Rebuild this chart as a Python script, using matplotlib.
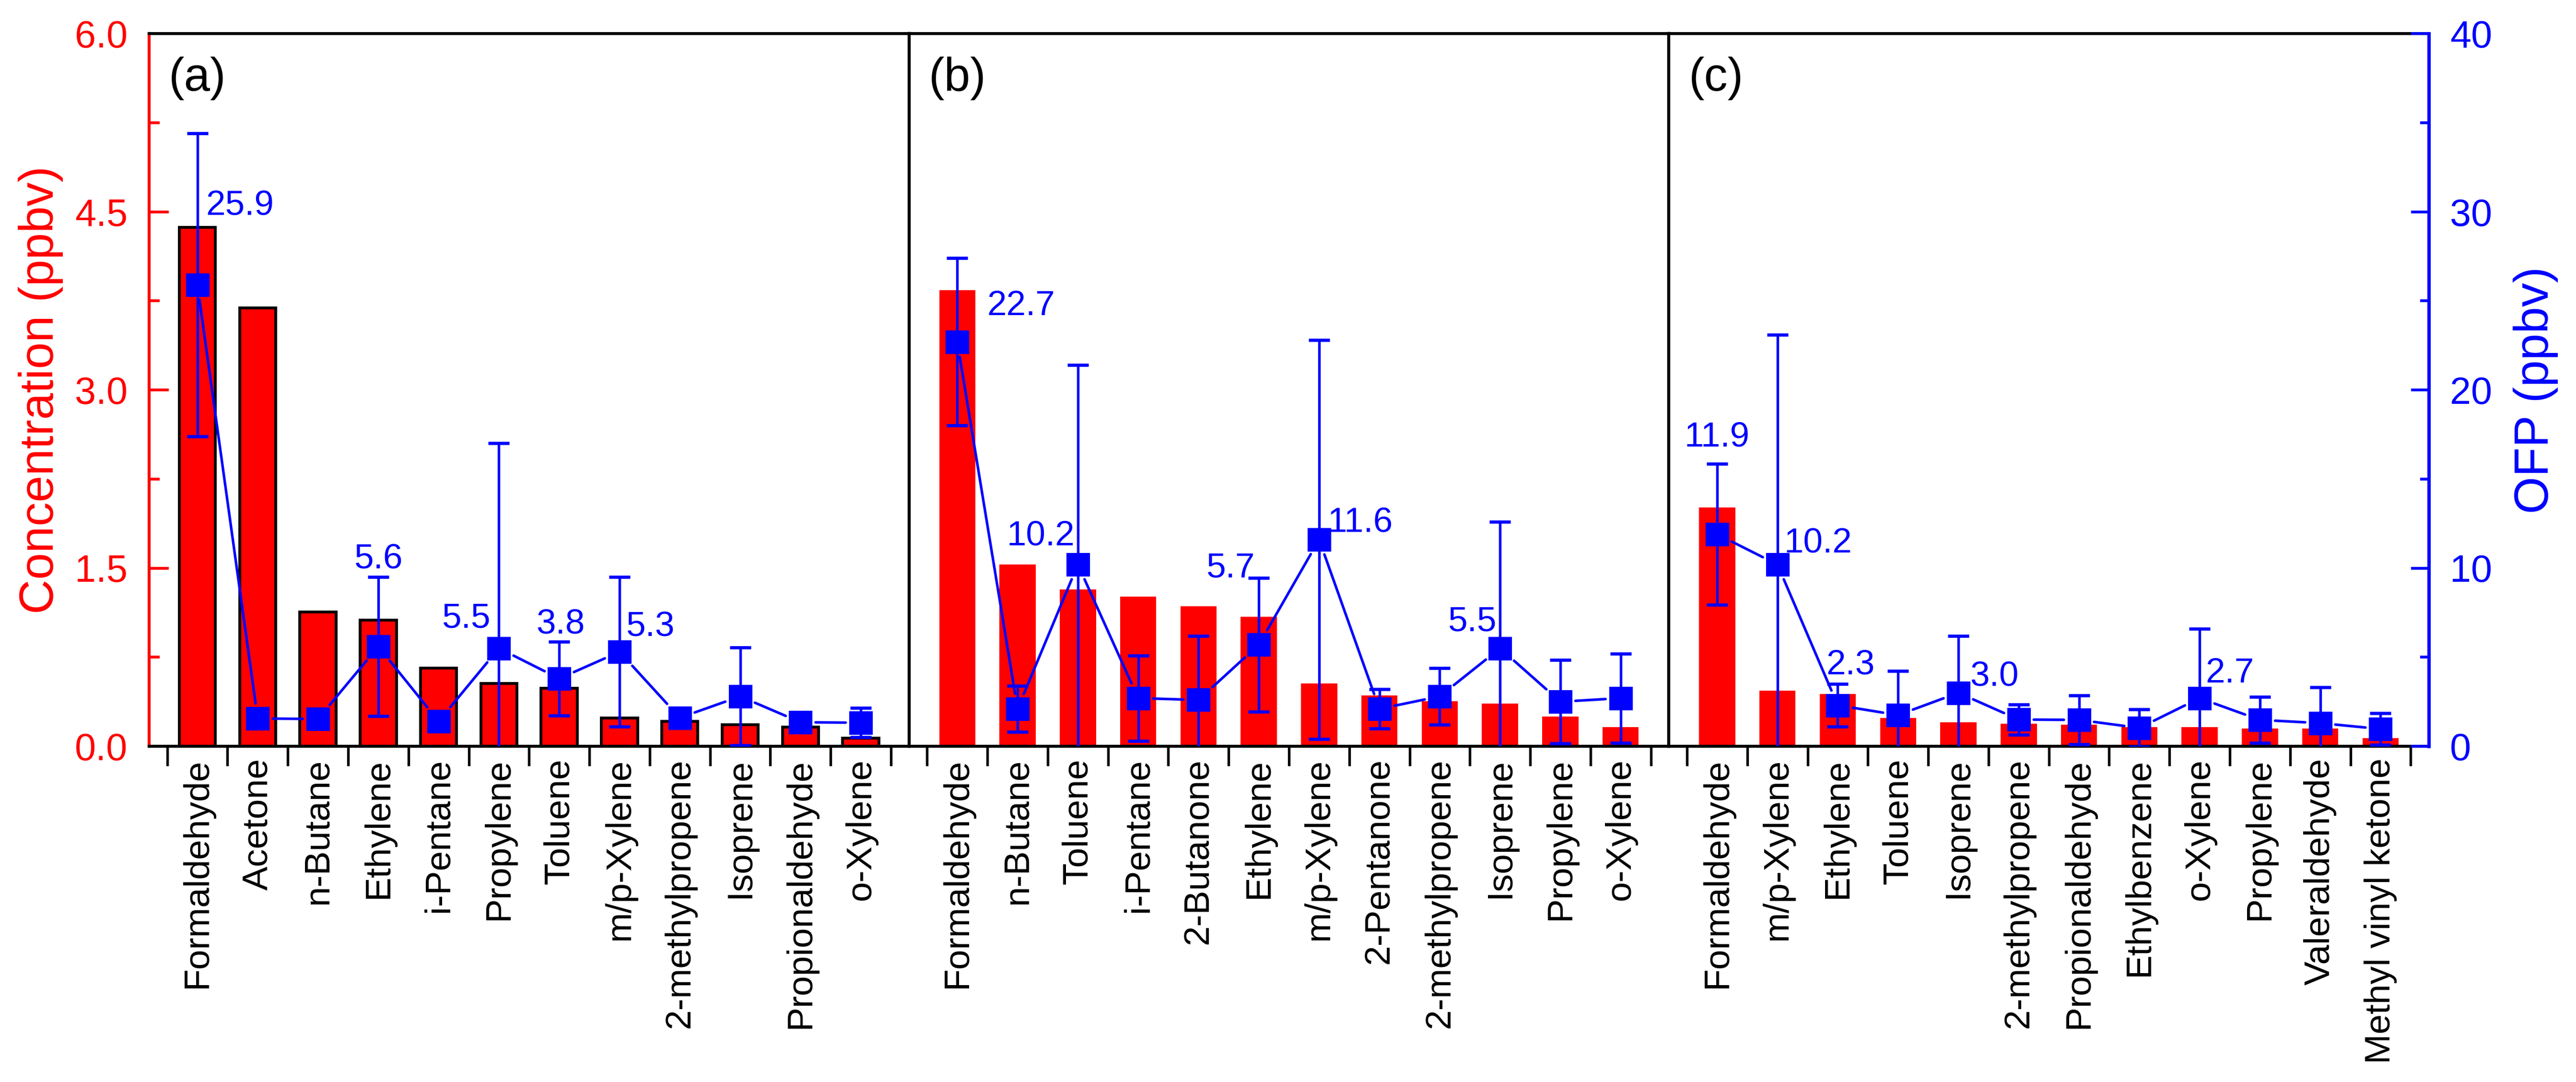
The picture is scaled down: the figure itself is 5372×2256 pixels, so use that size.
import numpy as np
import matplotlib.pyplot as plt
from matplotlib.ticker import MultipleLocator

plt.rcParams['font.family'] = ['Liberation Sans', 'DejaVu Sans']

# Panel (a)
names_a = ['Formaldehyde', 'Acetone', 'n-Butane', 'Ethylene', 'i-Pentane', 'Propylene',
           'Toluene', 'm/p-Xylene', '2-methylpropene', 'Isoprene', 'Propionaldehyde', 'o-Xylene']
conc_a = [4.37, 3.69, 1.13, 1.06, 0.66, 0.53, 0.49, 0.24, 0.21, 0.18, 0.16, 0.07]
ofp_a = [25.9, 1.56, 1.53, 5.6, 1.4, 5.5, 3.8, 5.3, 1.6, 2.8, 1.35, 1.32]
err_a = [8.5, 0.1, 0.2, 3.9, 0.1, 11.5, 2.07, 4.2, 0.2, 2.75, 0.15, 0.82]

# Panel (b)
names_b = ['Formaldehyde', 'n-Butane', 'Toluene', 'i-Pentane', '2-Butanone', 'Ethylene',
           'm/p-Xylene', '2-Pentanone', '2-methylpropene', 'Isoprene', 'Propylene', 'o-Xylene']
conc_b = [3.84, 1.53, 1.32, 1.26, 1.18, 1.09, 0.53, 0.43, 0.38, 0.36, 0.25, 0.16]
ofp_b = [22.7, 2.1, 10.2, 2.7, 2.6, 5.7, 11.6, 2.1, 2.8, 5.5, 2.5, 2.7]
err_b = [4.7, 1.3, 11.2, 2.4, 3.6, 3.75, 11.2, 1.1, 1.6, 7.1, 2.35, 2.5]

# Panel (c)
names_c = ['Formaldehyde', 'm/p-Xylene', 'Ethylene', 'Toluene', 'Isoprene', '2-methylpropene',
           'Propionaldehyde', 'Ethylbenzene', 'o-Xylene', 'Propylene', 'Valeraldehyde',
           'Methyl vinyl ketone']
conc_c = [2.01, 0.47, 0.44, 0.24, 0.20, 0.19, 0.18, 0.16, 0.16, 0.15, 0.15, 0.07]
ofp_c = [11.9, 10.2, 2.3, 1.75, 3.0, 1.5, 1.48, 1.03, 2.7, 1.48, 1.3, 0.97]
err_c = [3.95, 12.9, 1.2, 2.48, 3.2, 0.85, 1.37, 1.05, 3.9, 1.3, 2.0, 0.9]

# value labels: (index, x shift, baseline height in OFP units, alignment)
labels_a = [(0, 0.14, 29.85, 'left'), (3, 0.0, 10.0, 'center'), (5, -0.14, 6.65, 'right'),
            (6, 0.02, 6.35, 'center'), (7, 0.1, 6.2, 'left')]
labels_b = [(0, 0.49, 24.2, 'left'), (2, -0.05, 11.3, 'right'), (5, -0.07, 9.5, 'right'),
            (6, 0.14, 12.05, 'left'), (9, -0.06, 6.47, 'right')]
labels_c = [(0, 0.0, 16.85, 'center'), (1, 0.11, 10.9, 'left'), (2, -0.19, 4.06, 'left'),
            (4, 0.19, 3.4, 'left'), (8, 0.1, 3.57, 'left')]

panels = [(names_a, conc_a, ofp_a, err_a, labels_a, '(a)'),
          (names_b, conc_b, ofp_b, err_b, labels_b, '(b)'),
          (names_c, conc_c, ofp_c, err_c, labels_c, '(c)')]

dpi = 300
fig = plt.figure(figsize=(5372 / dpi, 2256 / dpi), dpi=dpi)
gs = fig.add_gridspec(1, 3, left=311 / 5372, right=5065 / 5372,
                      bottom=1 - 1556 / 2256, top=1 - 70 / 2256, wspace=0)

ms = 10.8          # marker size (pt)
half = ms / 2 * dpi / 72
gap = 9            # px gap between line and marker edge

for k, (names, conc, ofp, err, labels, tag) in enumerate(panels):
    ax = fig.add_subplot(gs[0, k])
    ax2 = ax.twinx()   # twinx turns the parent's left ticks on, so style afterwards
    x = np.arange(len(names))
    ax.bar(x, conc, width=0.6, color='#ff0000',
           edgecolor='black' if k == 0 else 'none', linewidth=1.4, zorder=2)
    ax.set_xlim(-0.8, 11.8)
    ax.set_ylim(0, 6)
    ax.set_xticks(x)
    ax.set_xticklabels(names, rotation=90, fontsize=18)
    ax.set_xticks(np.arange(-0.5, len(names)), minor=True)
    ax.tick_params(axis='x', which='major', length=0, pad=6)
    ax.tick_params(axis='x', which='minor', length=9.8, width=1.3, direction='out', color='black')
    for s in ax.spines.values():
        s.set_linewidth(1.5)
        s.set_color('black')
    ax.text(0.026, 0.968, tag, transform=ax.transAxes, fontsize=23.5, ha='left', va='top')

    if k == 0:
        ax.yaxis.set_major_locator(MultipleLocator(1.5))
        ax.yaxis.set_minor_locator(MultipleLocator(0.75))
        ax.yaxis.set_major_formatter('{x:.1f}')
        ax.spines['left'].set_color('red')
        ax.tick_params(axis='y', which='both', direction='in', colors='red', width=1.4,
                       left=True, right=False)
        ax.tick_params(axis='y', which='major', length=9.8, labelsize=19, pad=10.8)
        ax.tick_params(axis='y', which='minor', length=5.3)
        ax.set_ylabel('Concentration (ppbv)', color='red', fontsize=24, labelpad=5.6)
    else:
        ax.tick_params(axis='y', which='both', left=False, right=False,
                       labelleft=False, labelright=False)
    if k == 2:
        ax.spines['right'].set_visible(False)

    ax2.set_ylim(0, 40)
    for s in ax2.spines.values():
        s.set_visible(False)
    if k == 2:
        ax2.spines['right'].set_visible(True)
        ax2.spines['right'].set_color('blue')
        ax2.spines['right'].set_linewidth(1.7)
        ax2.yaxis.set_major_locator(MultipleLocator(10))
        ax2.yaxis.set_minor_locator(MultipleLocator(5))
        ax2.tick_params(axis='y', which='both', direction='in', colors='blue', width=1.4)
        ax2.tick_params(axis='y', which='major', length=8.9, labelsize=19, pad=10.6)
        ax2.tick_params(axis='y', which='minor', length=4.4)
        ax2.set_ylabel('OFP (ppbv)', color='blue', fontsize=24, labelpad=10.5)
    else:
        ax2.tick_params(axis='y', which='both', left=False, right=False,
                        labelleft=False, labelright=False)

    ax2.errorbar(x, ofp, yerr=err, fmt='none', ecolor='blue', elinewidth=1.3,
                 capsize=5.3, capthick=1.6, zorder=3)
    ax2.plot(x, ofp, 's', color='blue', ms=ms, zorder=4)

    # connecting line with a small gap around each marker
    pts = ax2.transData.transform(np.column_stack([x, ofp]))
    inv = ax2.transData.inverted()
    for p0, p1 in zip(pts[:-1], pts[1:]):
        d = p1 - p0
        L = np.hypot(*d)
        u = d / L
        cut = half / max(abs(u[0]), abs(u[1])) + gap
        if L <= 2 * cut:
            continue
        seg = inv.transform(np.array([p0 + u * cut, p1 - u * cut]))
        ax2.plot(seg[:, 0], seg[:, 1], color='blue', lw=1.3,
                 solid_capstyle='round', zorder=3)

    for i, dx, yb, ha in labels:
        ax2.text(i + dx, yb, f'{ofp[i]:.1f}', color='blue', fontsize=17.5,
                 ha=ha, va='baseline', zorder=5)

fig.savefig('out.png', dpi=dpi)
